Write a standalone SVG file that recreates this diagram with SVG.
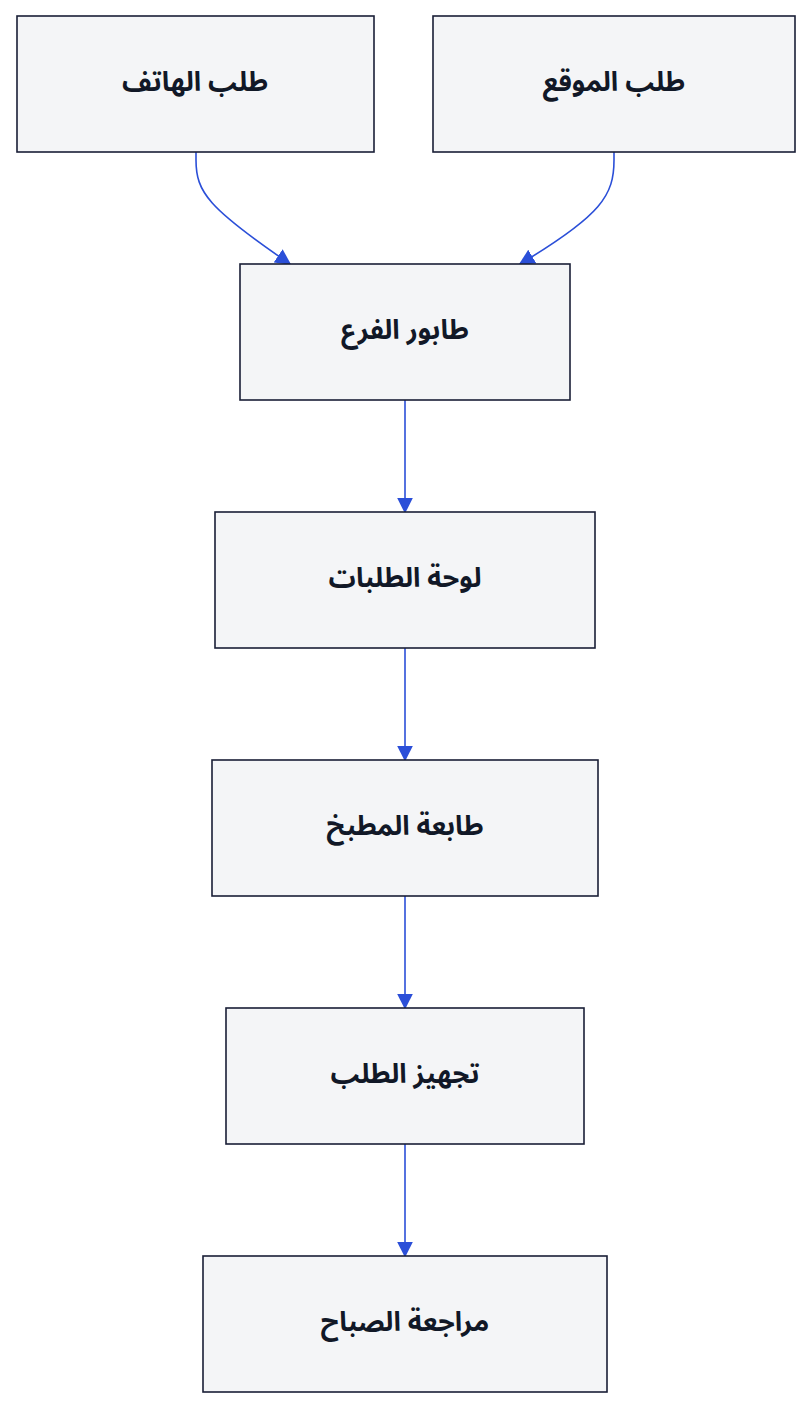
<svg xmlns="http://www.w3.org/2000/svg" width="812" height="1408" viewBox="0 0 812 1408">
<style>
.n rect{fill:#f4f5f7;stroke:#1a1f36;stroke-width:1.6}
.n text{font-family:"Noto Sans Arabic","DejaVu Sans",sans-serif;font-weight:bold;font-size:27px;fill:#111827;text-anchor:middle;dominant-baseline:central}
.e path{fill:none;stroke:#2b4fd8;stroke-width:1.6}
</style>
<defs><marker id="b" viewBox="0 0 10 10" refX="9" refY="5" markerWidth="16" markerHeight="16" markerUnits="userSpaceOnUse" orient="auto"><path d="M0,0L10,5L0,10z" fill="#2b4fd8"/></marker></defs>
<rect width="812" height="1408" fill="#fff"/>
<g class="e">
<path d="M196,152V160C196,192 208,208 290,264" marker-end="url(#b)"/>
<path d="M614,152V160C614,195 602,215 520,264" marker-end="url(#b)"/>
<path d="M405,400V512" marker-end="url(#b)"/>
<path d="M405,648V760" marker-end="url(#b)"/>
<path d="M405,896V1008" marker-end="url(#b)"/>
<path d="M405,1144V1256" marker-end="url(#b)"/>
</g>
<g class="n" id="phone"><rect x="17" y="16" width="357" height="136"/><text x="195" y="82" direction="rtl">طلب الهاتف</text></g>
<g class="n" id="web"><rect x="433" y="16" width="362" height="136"/><text x="614" y="82" direction="rtl">طلب الموقع</text></g>
<g class="n" id="queue"><rect x="240" y="264" width="330" height="136"/><text x="405" y="330" direction="rtl">طابور الفرع</text></g>
<g class="n" id="board"><rect x="215" y="512" width="380" height="136"/><text x="405" y="578" direction="rtl">لوحة الطلبات</text></g>
<g class="n" id="printer"><rect x="212" y="760" width="386" height="136"/><text x="405" y="826" direction="rtl">طابعة المطبخ</text></g>
<g class="n" id="prep"><rect x="226" y="1008" width="358" height="136"/><text x="405" y="1074" direction="rtl">تجهيز الطلب</text></g>
<g class="n" id="review"><rect x="203" y="1256" width="404" height="136"/><text x="405" y="1322" direction="rtl">مراجعة الصباح</text></g>
</svg>
